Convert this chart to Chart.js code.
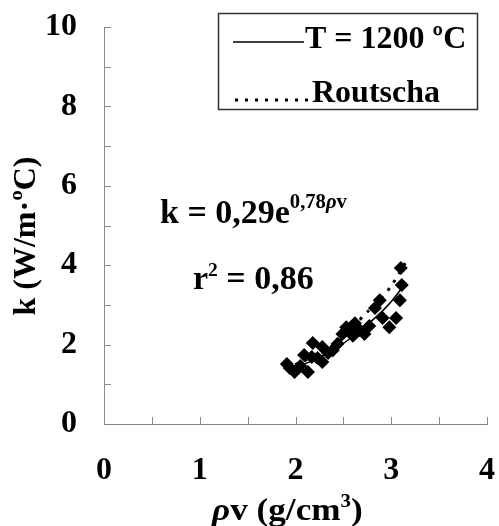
<!DOCTYPE html>
<html><head><meta charset="utf-8">
<script src="https://cdn.jsdelivr.net/npm/chart.js@4.4.1/dist/chart.umd.min.js"></script>
<style>html,body{margin:0;padding:0;background:#fff;}#wrap{width:499px;height:526px;}</style>
</head><body><div id="wrap"><canvas id="c" width="499" height="526"></canvas></div>
<script>
// measured data (rho_v in g/cm3, k in W/m.C)
const densityX = [1.91,1.94,1.99,2.05,2.09,2.13,2.17,2.18,2.23,2.28,2.28,2.34,2.39,2.44,2.49,2.53,2.57,2.60,2.62,2.67,2.72,2.77,2.83,2.88,2.91,2.98,3.05,3.09,3.11,3.10];
const conductivityY = [1.51,1.41,1.31,1.46,1.74,1.31,1.69,2.04,1.66,1.56,1.94,1.79,1.86,2.02,2.27,2.44,2.37,2.22,2.54,2.37,2.27,2.47,2.92,3.12,2.67,2.44,2.67,3.12,3.50,3.93];
const fitX = [1.95,2.20,2.45,2.70,2.95,3.12];
const fitY = [1.38,1.62,1.95,2.40,2.95,3.45];
const routschaX = [1.90,2.20,2.50,2.70,2.95,3.18];
const routschaY = [1.40,1.72,2.18,2.70,3.32,4.18];
const xTickLabels = ['0','1','2','3','4'];
const yTickLabels = ['0','2','4','6','8','10'];
const seriesNames = ['T = 1200 ºC','Routscha'];
const xTitle = ['ρ','v (g/cm','3',')'];
const yTitle = 'k (W/m·ºC)';
const eqMain = 'k = 0,29e';
const eqExp = ['0,78','ρ','v'];
const r2Text = ['r','2',' = 0,86'];

const FAM = '"Liberation Serif","Times New Roman",serif';
const AXIS_COLOR = '#8a8a8a';

const toXY = (xs, ys) => xs.map((x, i) => ({x: x, y: ys[i]}));

const overlay = {
  id: 'overlay',
  afterDraw(chart) {
    const ctx = chart.ctx;
    const xs = chart.scales.x, ys = chart.scales.y;
    ctx.save();
    // inward tick marks
    ctx.strokeStyle = AXIS_COLOR; ctx.lineWidth = 1;
    ctx.beginPath();
    for (let v = 0; v <= 10; v += 1) {
      const py = Math.round(ys.getPixelForValue(v)) + 0.5;
      ctx.moveTo(xs.left, py); ctx.lineTo(xs.left + 7, py);
    }
    for (let v = 0; v <= 4; v += 0.5) {
      const px = Math.round(xs.getPixelForValue(v)) + 0.5;
      ctx.moveTo(px, ys.bottom); ctx.lineTo(px, ys.bottom - 7);
    }
    ctx.stroke();

    ctx.fillStyle = '#000';
    ctx.textBaseline = 'alphabetic';
    ctx.textAlign = 'left';
    const run = (parts, x, y, sx) => {
      ctx.save();
      ctx.translate(x, y);
      ctx.scale(sx || 1, 1);
      let cx = 0;
      parts.forEach(p => {
        ctx.font = (p.it ? 'italic ' : '') + 'bold ' + p.s + 'px ' + FAM;
        ctx.fillText(p.t, cx, (p.dy || 0));
        cx += ctx.measureText(p.t).width;
      });
      ctx.restore();
    };
    // x title
    run([{t: xTitle[0], s: 32, it: true}, {t: xTitle[1], s: 32}, {t: xTitle[2], s: 19, dy: -13}, {t: xTitle[3], s: 32}], 212, 520, 1.1);
    // y title
    ctx.save();
    ctx.translate(35, 236);
    ctx.rotate(-Math.PI / 2);
    ctx.font = 'bold 32px ' + FAM;
    ctx.textAlign = 'center';
    ctx.fillText(yTitle, 0, 0);
    ctx.restore();
    ctx.textAlign = 'left';
    // equation
    run([{t: eqMain, s: 33}, {t: eqExp[0], s: 20, dy: -15}, {t: eqExp[1], s: 20, dy: -15, it: true}, {t: eqExp[2], s: 20, dy: -15}], 160, 223, 1.03);
    run([{t: r2Text[0], s: 33}, {t: r2Text[1], s: 19, dy: -13}, {t: r2Text[2], s: 33}], 193, 289, 1.03);

    // legend box
    ctx.strokeStyle = '#333'; ctx.lineWidth = 1.5;
    ctx.strokeRect(218.5, 13.5, 259, 96);
    const ds1 = chart.data.datasets[1], ds2 = chart.data.datasets[2];
    ctx.strokeStyle = ds1.borderColor; ctx.lineWidth = ds1.borderWidth;
    ctx.beginPath(); ctx.moveTo(233, 42); ctx.lineTo(304, 42); ctx.stroke();
    ctx.strokeStyle = ds2.borderColor; ctx.lineWidth = ds2.borderWidth;
    ctx.setLineDash(ds2.borderDash);
    ctx.beginPath(); ctx.moveTo(235, 100); ctx.lineTo(310, 100); ctx.stroke();
    ctx.setLineDash([]);
    ctx.font = 'bold 32px ' + FAM;
    ctx.fillText(seriesNames[0], 305, 48);
    ctx.fillText(seriesNames[1], 312, 102);
    ctx.restore();
  }
};

const zeroPad = (s) => { s.paddingLeft = 0; s.paddingRight = 0; s.paddingTop = 0; s.paddingBottom = 0; };

new Chart(document.getElementById('c'), {
  type: 'scatter',
  data: {
    datasets: [
      {label: 'data', data: toXY(densityX, conductivityY), pointStyle: 'rectRot', pointRadius: 7,
       backgroundColor: '#000', borderColor: '#000', borderWidth: 0, showLine: false, order: 3},
      {label: seriesNames[0], type: 'line', data: toXY(fitX, fitY), borderColor: '#000', borderWidth: 1.5,
       pointRadius: 0, tension: 0.4, fill: false, order: 1},
      {label: seriesNames[1], type: 'line', data: toXY(routschaX, routschaY), borderColor: '#000', borderWidth: 3,
       borderDash: [3, 7], pointRadius: 0, tension: 0.4, fill: false, order: 2}
    ]
  },
  options: {
    responsive: false, animation: false, devicePixelRatio: 1,
    layout: {padding: {left: 0, top: 27, right: 12, bottom: 0}},
    plugins: {legend: {display: false}, tooltip: {enabled: false}},
    scales: {
      x: {
        type: 'linear', min: 0, max: 4,
        grid: {display: false, drawTicks: false},
        border: {display: true, color: AXIS_COLOR, width: 1},
        ticks: {stepSize: 1, autoSkip: false, padding: 28, color: '#000', maxRotation: 0,
          font: {family: FAM, size: 32, weight: 'bold'},
          callback: (v) => xTickLabels.includes(String(v)) ? String(v) : ''},
        afterFit: (s) => { s.height = 102; zeroPad(s); }
      },
      y: {
        type: 'linear', min: 0, max: 10,
        grid: {display: false, drawTicks: false},
        border: {display: true, color: AXIS_COLOR, width: 1},
        ticks: {stepSize: 2, autoSkip: false, padding: 27, color: '#000',
          font: {family: FAM, size: 32, weight: 'bold'},
          callback: (v) => yTickLabels.includes(String(v)) ? String(v) : ''},
        afterFit: (s) => { s.width = 104; zeroPad(s); }
      }
    }
  },
  plugins: [overlay]
});
</script></body></html>
